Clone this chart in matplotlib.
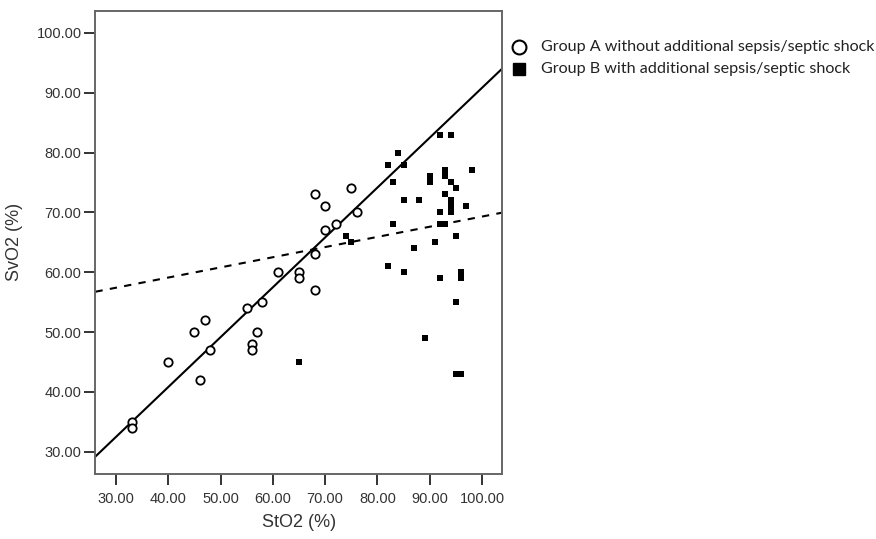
import numpy as np
import matplotlib
matplotlib.use("Agg")
import matplotlib.pyplot as plt
from matplotlib.lines import Line2D

plt.rcParams["font.family"] = ["Liberation Sans", "DejaVu Sans"]

# Group A: without additional sepsis/septic shock
group_a_sto2 = [33, 33, 40, 45, 47, 48, 46, 55, 58, 57, 56, 56, 61, 65, 65,
                68, 68, 68, 70, 70, 72, 75, 76]
group_a_svo2 = [35, 34, 45, 50, 52, 47, 42, 54, 55, 50, 48, 47, 60, 60, 59,
                57, 63, 73, 71, 67, 68, 74, 70]

# Group B: with additional sepsis/septic shock
group_b_sto2 = [65, 74, 75, 82, 84, 85, 83, 85, 88, 83, 82, 85, 87, 89, 90,
                90, 91, 92, 94, 92, 92, 93, 92, 93, 93, 93, 94, 94, 94, 94,
                95, 95, 95, 96, 96, 95, 96, 97, 98]
group_b_svo2 = [45, 66, 65, 78, 80, 78, 75, 72, 72, 68, 61, 60, 64, 49, 76,
                75, 65, 83, 83, 70, 68, 68, 59, 77, 76, 73, 75, 72, 71, 70,
                74, 66, 55, 60, 59, 43, 43, 71, 77]

# fit lines (intercept, slope) as drawn in the original
fit_a = (7.43, 0.834)
fit_b = (52.3, 0.170)

x_ticks = [30, 40, 50, 60, 70, 80, 90, 100]
y_ticks = [30, 40, 50, 60, 70, 80, 90, 100]
x_lim = (26.1, 103.8)
y_lim = (26.3, 103.7)

fig = plt.figure(figsize=(8.76, 5.39), dpi=100)
ax = fig.add_axes([0.109, 0.121, 0.464, 0.859])

ax.scatter(group_a_sto2, group_a_svo2, s=36, facecolors="white",
           edgecolors="black", linewidths=1.3, zorder=3)
ax.scatter(group_b_sto2, group_b_svo2, s=22, marker="s", color="black",
           linewidths=0, zorder=3)

xs = np.array(x_lim)
ax.plot(xs, fit_a[0] + fit_a[1] * xs, color="black", linewidth=1.5, zorder=2)
ax.plot(xs, fit_b[0] + fit_b[1] * xs, color="black", linewidth=1.5,
        dashes=(3.5, 3.5), zorder=2)

ax.set_xlim(x_lim)
ax.set_ylim(y_lim)
ax.set_xticks(x_ticks)
ax.set_yticks(y_ticks)
ax.set_xticklabels([f"{v:.2f}" for v in x_ticks])
ax.set_yticklabels([f"{v:.2f}" for v in y_ticks])

for spine in ax.spines.values():
    spine.set_color("#666666")
    spine.set_linewidth(1.4)

ax.tick_params(axis="both", direction="out", length=8, width=1.4,
               color="#333333", labelsize=10.5, labelcolor="#333333")
ax.tick_params(axis="x", pad=5)
ax.tick_params(axis="y", pad=2)

ax.set_xlabel("StO2 (%)", fontsize=13, color="#333333", labelpad=6)
ax.set_ylabel("SvO2 (%)", fontsize=13, color="#333333", labelpad=10)

# legend outside the plot, on the right
fig.add_artist(Line2D([519 / 876], [1 - 47 / 539], marker="o", markersize=10,
                      markerfacecolor="white", markeredgecolor="black",
                      markeredgewidth=1.5, linestyle="none"))
fig.add_artist(Line2D([519 / 876], [1 - 69 / 539], marker="s", markersize=8,
                      color="black", linestyle="none"))
fig.text(541 / 876, 1 - 47 / 539, "Group A without additional sepsis/septic shock",
         fontsize=11.6, fontfamily="Lato", va="center", ha="left", color="#222222")
fig.text(541 / 876, 1 - 69 / 539, "Group B with additional sepsis/septic shock",
         fontsize=11.6, fontfamily="Lato", va="center", ha="left", color="#222222")

fig.savefig("out.png", dpi=100)
